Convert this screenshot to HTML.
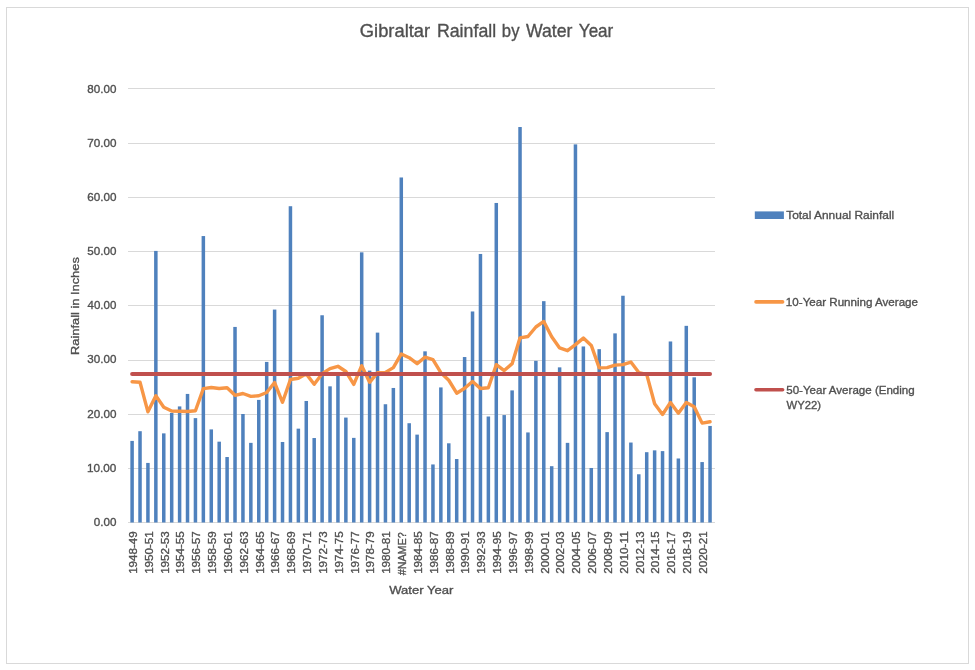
<!DOCTYPE html>
<html lang="en">
<head>
<meta charset="utf-8">
<title>Gibraltar Rainfall by Water Year</title>
<style>
html,body{margin:0;padding:0;background:#fff;}
body{width:975px;height:670px;overflow:hidden;}
svg{display:block;}
text{font-family:"Liberation Sans", sans-serif;fill:#505050;stroke:#505050;stroke-width:0.35px;}
</style>
</head>
<body>
<svg width="975" height="670" viewBox="0 0 975 670">
<rect x="0" y="0" width="975" height="670" fill="#ffffff"/>
<rect x="6.5" y="7.5" width="962" height="656" fill="#ffffff" stroke="#d9d9d9" stroke-width="1"/>

<text id="title" y="36.7" font-size="18.4"><tspan x="359.84" textLength="70.35" lengthAdjust="spacingAndGlyphs">Gibraltar</tspan> <tspan x="436.91" textLength="59.26" lengthAdjust="spacingAndGlyphs">Rainfall</tspan> <tspan x="501.86" textLength="17.64" lengthAdjust="spacingAndGlyphs">by</tspan> <tspan x="525.90" textLength="46.49" lengthAdjust="spacingAndGlyphs">Water</tspan> <tspan x="578.83" textLength="34.45" lengthAdjust="spacingAndGlyphs">Year</tspan></text>
<g stroke="#d9d9d9" stroke-width="1">
<line x1="128" y1="88.5" x2="715" y2="88.5"/>
<line x1="128" y1="143.5" x2="715" y2="143.5"/>
<line x1="128" y1="197.5" x2="715" y2="197.5"/>
<line x1="128" y1="251.5" x2="715" y2="251.5"/>
<line x1="128" y1="305.5" x2="715" y2="305.5"/>
<line x1="128" y1="360.5" x2="715" y2="360.5"/>
<line x1="128" y1="414.5" x2="715" y2="414.5"/>
<line x1="128" y1="468.5" x2="715" y2="468.5"/>
<line x1="128" y1="522.5" x2="715" y2="522.5"/>
</g>
<g id="labels">
<text transform="translate(93.74,525.85) scale(0.9864,1)" font-size="11.8">0.00</text>
<text transform="translate(86.97,471.72) scale(0.9966,1)" font-size="11.8">10.00</text>
<text transform="translate(87.15,417.59) scale(0.9902,1)" font-size="11.8">20.00</text>
<text transform="translate(87.34,363.46) scale(0.9838,1)" font-size="11.8">30.00</text>
<text transform="translate(87.52,309.33) scale(0.9776,1)" font-size="11.8">40.00</text>
<text transform="translate(87.34,255.20) scale(0.9838,1)" font-size="11.8">50.00</text>
<text transform="translate(87.15,201.07) scale(0.9902,1)" font-size="11.8">60.00</text>
<text transform="translate(87.15,146.94) scale(0.9902,1)" font-size="11.8">70.00</text>
<text transform="translate(87.34,92.81) scale(0.9838,1)" font-size="11.8">80.00</text>
<text transform="translate(136.95,573.83) rotate(-90) scale(0.9836,1)" font-size="11.8">1948-49</text>
<text transform="translate(152.78,573.83) rotate(-90) scale(0.9836,1)" font-size="11.8">1950-51</text>
<text transform="translate(168.62,573.83) rotate(-90) scale(0.9836,1)" font-size="11.8">1952-53</text>
<text transform="translate(184.45,573.83) rotate(-90) scale(0.9836,1)" font-size="11.8">1954-55</text>
<text transform="translate(200.29,573.83) rotate(-90) scale(0.9836,1)" font-size="11.8">1956-57</text>
<text transform="translate(216.12,573.83) rotate(-90) scale(0.9836,1)" font-size="11.8">1958-59</text>
<text transform="translate(231.95,573.83) rotate(-90) scale(0.9836,1)" font-size="11.8">1960-61</text>
<text transform="translate(247.79,573.83) rotate(-90) scale(0.9836,1)" font-size="11.8">1962-63</text>
<text transform="translate(263.62,573.83) rotate(-90) scale(0.9836,1)" font-size="11.8">1964-65</text>
<text transform="translate(279.46,573.83) rotate(-90) scale(0.9836,1)" font-size="11.8">1966-67</text>
<text transform="translate(295.29,573.83) rotate(-90) scale(0.9836,1)" font-size="11.8">1968-69</text>
<text transform="translate(311.12,573.83) rotate(-90) scale(0.9836,1)" font-size="11.8">1970-71</text>
<text transform="translate(326.96,573.83) rotate(-90) scale(0.9836,1)" font-size="11.8">1972-73</text>
<text transform="translate(342.79,573.83) rotate(-90) scale(0.9836,1)" font-size="11.8">1974-75</text>
<text transform="translate(358.63,573.83) rotate(-90) scale(0.9836,1)" font-size="11.8">1976-77</text>
<text transform="translate(374.46,573.83) rotate(-90) scale(0.9836,1)" font-size="11.8">1978-79</text>
<text transform="translate(390.29,573.83) rotate(-90) scale(0.9836,1)" font-size="11.8">1980-81</text>
<text transform="translate(406.13,575.30) rotate(-90) scale(0.9121,1)" font-size="11.8">#NAME?</text>
<text transform="translate(421.96,573.83) rotate(-90) scale(0.9836,1)" font-size="11.8">1984-85</text>
<text transform="translate(437.80,573.83) rotate(-90) scale(0.9836,1)" font-size="11.8">1986-87</text>
<text transform="translate(453.63,573.83) rotate(-90) scale(0.9836,1)" font-size="11.8">1988-89</text>
<text transform="translate(469.46,573.83) rotate(-90) scale(0.9836,1)" font-size="11.8">1990-91</text>
<text transform="translate(485.30,573.83) rotate(-90) scale(0.9836,1)" font-size="11.8">1992-93</text>
<text transform="translate(501.13,573.83) rotate(-90) scale(0.9836,1)" font-size="11.8">1994-95</text>
<text transform="translate(516.97,573.83) rotate(-90) scale(0.9836,1)" font-size="11.8">1996-97</text>
<text transform="translate(532.80,573.83) rotate(-90) scale(0.9836,1)" font-size="11.8">1998-99</text>
<text transform="translate(548.63,573.64) rotate(-90) scale(0.9793,1)" font-size="11.8">2000-01</text>
<text transform="translate(564.47,573.64) rotate(-90) scale(0.9793,1)" font-size="11.8">2002-03</text>
<text transform="translate(580.30,573.64) rotate(-90) scale(0.9793,1)" font-size="11.8">2004-05</text>
<text transform="translate(596.14,573.64) rotate(-90) scale(0.9793,1)" font-size="11.8">2006-07</text>
<text transform="translate(611.97,573.64) rotate(-90) scale(0.9793,1)" font-size="11.8">2008-09</text>
<text transform="translate(627.80,573.65) rotate(-90) scale(1.0000,1)" font-size="11.8">2010-11</text>
<text transform="translate(643.64,573.64) rotate(-90) scale(0.9793,1)" font-size="11.8">2012-13</text>
<text transform="translate(659.47,573.64) rotate(-90) scale(0.9793,1)" font-size="11.8">2014-15</text>
<text transform="translate(675.31,573.64) rotate(-90) scale(0.9793,1)" font-size="11.8">2016-17</text>
<text transform="translate(691.14,573.64) rotate(-90) scale(0.9793,1)" font-size="11.8">2018-19</text>
<text transform="translate(706.97,573.64) rotate(-90) scale(0.9793,1)" font-size="11.8">2020-21</text>
<text transform="translate(389.20,593.70) scale(1.1085,1)" font-size="11.8">Water Year</text>
<text transform="translate(78.90,355.00) rotate(-90) scale(1.0895,1)" font-size="11.8">Rainfall in Inches</text>
<text transform="translate(786.21,219.00) scale(1.0102,1)" font-size="11.8">Total Annual Rainfall</text>
<text transform="translate(785.87,305.80) scale(0.9841,1)" font-size="11.8">10-Year Running Average</text>
<text transform="translate(786.24,393.60) scale(0.9799,1)" font-size="11.8">50-Year Average (Ending</text>
<text transform="translate(786.60,409.40) scale(0.9562,1)" font-size="11.8">WY22)</text>
</g>
<g fill="#4f81bd">
<rect x="130.35" y="440.91" width="3.5" height="81.59"/>
<rect x="138.27" y="431.20" width="3.5" height="91.30"/>
<rect x="146.18" y="462.93" width="3.5" height="59.57"/>
<rect x="154.10" y="250.92" width="3.5" height="271.58"/>
<rect x="162.02" y="433.37" width="3.5" height="89.13"/>
<rect x="169.94" y="412.92" width="3.5" height="109.58"/>
<rect x="177.85" y="406.41" width="3.5" height="116.09"/>
<rect x="185.77" y="393.93" width="3.5" height="128.57"/>
<rect x="193.69" y="418.12" width="3.5" height="104.38"/>
<rect x="201.60" y="236.06" width="3.5" height="286.44"/>
<rect x="209.52" y="429.41" width="3.5" height="93.09"/>
<rect x="217.44" y="441.67" width="3.5" height="80.83"/>
<rect x="225.35" y="457.02" width="3.5" height="65.48"/>
<rect x="233.27" y="326.93" width="3.5" height="195.57"/>
<rect x="241.19" y="414.00" width="3.5" height="108.50"/>
<rect x="249.10" y="442.86" width="3.5" height="79.64"/>
<rect x="257.02" y="399.89" width="3.5" height="122.61"/>
<rect x="264.94" y="361.92" width="3.5" height="160.58"/>
<rect x="272.86" y="309.57" width="3.5" height="212.93"/>
<rect x="280.77" y="441.99" width="3.5" height="80.51"/>
<rect x="288.69" y="206.22" width="3.5" height="316.28"/>
<rect x="296.61" y="428.65" width="3.5" height="93.85"/>
<rect x="304.52" y="400.98" width="3.5" height="121.52"/>
<rect x="312.44" y="438.03" width="3.5" height="84.47"/>
<rect x="320.36" y="315.26" width="3.5" height="207.24"/>
<rect x="328.27" y="386.33" width="3.5" height="136.17"/>
<rect x="336.19" y="373.86" width="3.5" height="148.64"/>
<rect x="344.11" y="417.58" width="3.5" height="104.92"/>
<rect x="352.03" y="437.87" width="3.5" height="84.63"/>
<rect x="359.94" y="252.34" width="3.5" height="270.16"/>
<rect x="367.86" y="370.60" width="3.5" height="151.90"/>
<rect x="375.78" y="332.62" width="3.5" height="189.88"/>
<rect x="383.69" y="404.24" width="3.5" height="118.26"/>
<rect x="391.61" y="387.96" width="3.5" height="134.54"/>
<rect x="399.53" y="177.47" width="3.5" height="345.03"/>
<rect x="407.44" y="423.22" width="3.5" height="99.28"/>
<rect x="415.36" y="434.62" width="3.5" height="87.88"/>
<rect x="423.28" y="351.34" width="3.5" height="171.16"/>
<rect x="431.20" y="464.45" width="3.5" height="58.05"/>
<rect x="439.11" y="387.42" width="3.5" height="135.08"/>
<rect x="447.03" y="443.30" width="3.5" height="79.20"/>
<rect x="454.95" y="459.03" width="3.5" height="63.47"/>
<rect x="462.86" y="357.04" width="3.5" height="165.46"/>
<rect x="470.78" y="311.47" width="3.5" height="211.03"/>
<rect x="478.70" y="253.96" width="3.5" height="268.54"/>
<rect x="486.62" y="416.50" width="3.5" height="106.00"/>
<rect x="494.53" y="202.97" width="3.5" height="319.53"/>
<rect x="502.45" y="415.08" width="3.5" height="107.42"/>
<rect x="510.37" y="390.40" width="3.5" height="132.10"/>
<rect x="518.28" y="127.02" width="3.5" height="395.48"/>
<rect x="526.20" y="432.44" width="3.5" height="90.06"/>
<rect x="534.12" y="360.84" width="3.5" height="161.66"/>
<rect x="542.03" y="301.16" width="3.5" height="221.34"/>
<rect x="549.95" y="466.19" width="3.5" height="56.31"/>
<rect x="557.87" y="367.35" width="3.5" height="155.15"/>
<rect x="565.78" y="442.86" width="3.5" height="79.64"/>
<rect x="573.70" y="144.38" width="3.5" height="378.12"/>
<rect x="581.62" y="346.46" width="3.5" height="176.04"/>
<rect x="589.54" y="467.98" width="3.5" height="54.52"/>
<rect x="597.45" y="349.17" width="3.5" height="173.33"/>
<rect x="605.37" y="432.12" width="3.5" height="90.38"/>
<rect x="613.29" y="333.38" width="3.5" height="189.12"/>
<rect x="621.20" y="295.74" width="3.5" height="226.76"/>
<rect x="629.12" y="442.54" width="3.5" height="79.96"/>
<rect x="637.04" y="474.27" width="3.5" height="48.23"/>
<rect x="644.96" y="452.19" width="3.5" height="70.31"/>
<rect x="652.87" y="450.35" width="3.5" height="72.15"/>
<rect x="660.79" y="451.11" width="3.5" height="71.39"/>
<rect x="668.71" y="341.47" width="3.5" height="181.03"/>
<rect x="676.62" y="458.49" width="3.5" height="64.01"/>
<rect x="684.54" y="325.84" width="3.5" height="196.66"/>
<rect x="692.46" y="377.33" width="3.5" height="145.17"/>
<rect x="700.37" y="462.07" width="3.5" height="60.43"/>
<rect x="708.29" y="425.94" width="3.5" height="96.56"/>
</g>
<polyline points="132.10,381.72 140.02,382.21 147.93,411.83 155.85,395.66 163.77,407.22 171.69,411.02 179.60,411.29 187.52,411.56 195.44,410.75 203.35,388.59 211.27,387.47 219.19,388.54 227.10,387.70 235.02,395.30 242.94,393.52 250.85,396.37 258.77,395.77 266.69,392.54 274.61,382.51 282.52,402.30 290.44,379.47 298.36,378.28 306.27,373.85 314.19,384.29 322.11,373.65 330.02,368.66 337.94,366.27 345.86,371.50 353.78,384.42 361.69,365.71 369.61,382.34 377.53,372.66 385.44,372.41 393.36,367.61 401.28,353.93 409.19,357.68 417.11,363.70 425.03,357.13 432.95,359.55 440.86,372.68 448.78,380.24 456.70,393.21 464.61,388.27 472.53,381.46 480.45,388.54 488.37,387.80 496.28,364.69 504.20,370.59 512.12,363.63 520.03,337.86 527.95,336.51 535.87,326.99 543.78,321.48 551.70,336.81 559.62,347.90 567.53,350.71 575.45,344.67 583.37,338.12 591.29,345.38 599.20,367.88 607.12,367.60 615.04,365.14 622.95,364.60 630.87,362.06 638.79,372.56 646.71,374.38 654.62,403.78 662.54,414.44 670.46,402.42 678.37,413.18 686.29,402.57 694.21,406.67 702.12,423.12 710.04,421.75" fill="none" stroke="#f79646" stroke-width="3.4" stroke-linejoin="round" stroke-linecap="round"/>
<line x1="132.10" y1="373.91" x2="710.04" y2="373.91" stroke="#c0504d" stroke-width="4" stroke-linecap="round"/>
<rect x="754.8" y="211.4" width="29.1" height="7.6" fill="#4f81bd"/>
<line x1="756" y1="301.9" x2="782.6" y2="301.9" stroke="#f79646" stroke-width="3.6" stroke-linecap="round"/>
<line x1="756" y1="389.8" x2="782.6" y2="389.8" stroke="#c0504d" stroke-width="3.6" stroke-linecap="round"/>
</svg>
</body>
</html>
